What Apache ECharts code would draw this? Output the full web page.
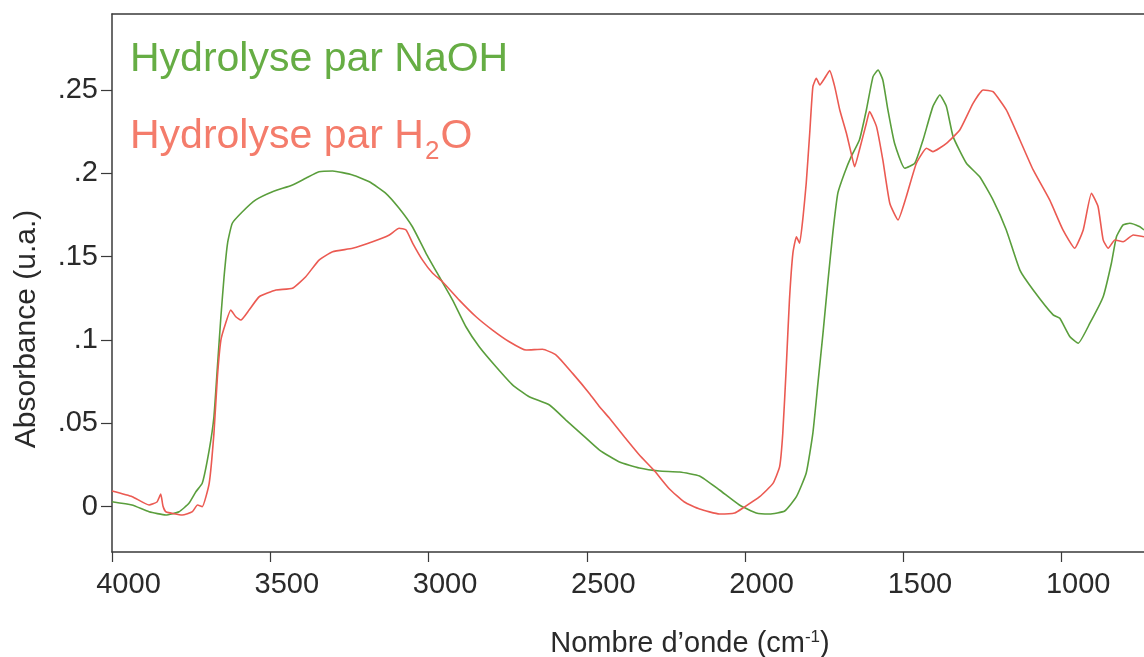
<!DOCTYPE html>
<html>
<head>
<meta charset="utf-8">
<script src="https://cdn.jsdelivr.net/npm/echarts@6/dist/echarts.min.js"></script>
<style>
html,body{margin:0;padding:0;background:#fff;}
#chart{width:1144px;height:657px;}
</style>
</head>
<body>
<div id="chart"></div>
<script>
// ---- Data ----
const seriesNames = ['Hydrolyse par NaOH', 'Hydrolyse par H2O'];

const naohWavenumbers = [4000,3937,3883,3830,3788,3757,3735,3715,3693,3678,3667,3656,3646,3635,3620,3588,3546,3493,3430,3388,3346,3303,3240,3187,3135,3093,3051,3008,2966,2924,2882,2840,2787,2734,2682,2618,2566,2513,2460,2397,2334,2271,2207,2144,2081,2018,1965,1923,1875,1838,1807,1786,1770,1754,1739,1723,1707,1686,1665,1639,1617,1596,1580,1565,1549,1528,1496,1464,1438,1407,1385,1364,1343,1301,1259,1217,1175,1132,1090,1027,1006,974,948,911,869,843,827,806,785,753,740];
const naohAbsorbance = [0.0029,0.0009,-0.0031,-0.0051,-0.0031,0.0019,0.0089,0.0139,0.0339,0.0539,0.0839,0.1139,0.1379,0.1580,0.1700,0.1769,0.1840,0.1889,0.1930,0.1970,0.2009,0.2014,0.1990,0.1949,0.1880,0.1790,0.1679,0.1520,0.1379,0.1239,0.1079,0.0959,0.0839,0.0729,0.0659,0.0609,0.0519,0.0429,0.0339,0.0267,0.0231,0.0213,0.0207,0.0183,0.0099,0.0009,-0.0039,-0.0045,-0.0027,0.0059,0.0201,0.0441,0.0741,0.1041,0.1341,0.1642,0.1882,0.2002,0.2100,0.2200,0.2380,0.2580,0.2620,0.2560,0.2380,0.2180,0.2030,0.2060,0.2200,0.2400,0.2470,0.2400,0.2220,0.2060,0.1979,0.1840,0.1660,0.1419,0.1300,0.1150,0.1130,0.1019,0.0980,0.1100,0.1259,0.1460,0.1619,0.1690,0.1700,0.1679,0.1660];

const h2oWavenumbers = [4000,3936,3883,3858,3846,3839,3830,3778,3746,3730,3715,3693,3678,3667,3656,3641,3625,3609,3593,3567,3535,3482,3430,3388,3346,3303,3240,3177,3124,3093,3071,3050,3019,2987,2956,2903,2850,2798,2745,2692,2640,2597,2545,2492,2460,2429,2381,2334,2286,2239,2192,2144,2081,2033,2007,1954,1912,1891,1881,1870,1860,1849,1838,1828,1817,1807,1796,1786,1775,1764,1749,1733,1717,1701,1680,1665,1654,1639,1617,1607,1585,1565,1543,1517,1491,1459,1427,1407,1364,1322,1280,1248,1217,1175,1132,1090,1038,996,959,932,906,885,869,853,832,806,774,740];
const h2oAbsorbance = [0.0093,0.0059,0.0009,0.0027,0.0075,0.0003,-0.0031,-0.0051,-0.0031,0.0009,-0.0001,0.0139,0.0439,0.0779,0.0999,0.1100,0.1179,0.1139,0.1119,0.1179,0.1259,0.1299,0.1310,0.1379,0.1479,0.1529,0.1550,0.1589,0.1630,0.1670,0.1660,0.1580,0.1479,0.1400,0.1349,0.1239,0.1139,0.1059,0.0989,0.0939,0.0944,0.0909,0.0799,0.0679,0.0599,0.0531,0.0417,0.0309,0.0213,0.0105,0.0027,-0.0015,-0.0045,-0.0039,-0.0009,0.0059,0.0139,0.0239,0.0441,0.0839,0.1239,0.1522,0.1619,0.1580,0.1739,0.1940,0.2240,0.2520,0.2570,0.2530,0.2570,0.2616,0.2520,0.2380,0.2240,0.2120,0.2039,0.2140,0.2300,0.2370,0.2280,0.2080,0.1820,0.1720,0.1859,0.2060,0.2150,0.2130,0.2180,0.2260,0.2420,0.2500,0.2490,0.2380,0.2200,0.2020,0.1840,0.1660,0.1550,0.1660,0.1880,0.1799,0.1600,0.1550,0.1600,0.1589,0.1630,0.1619];

const xTicks = [4000, 3500, 3000, 2500, 2000, 1500, 1000];
const xTickLabels = ['4000', '3500', '3000', '2500', '2000', '1500', '1000'];
const yTicks = [0, 0.05, 0.1, 0.15, 0.2, 0.25];
const yTickLabels = ['0', '.05', '.1', '.15', '.2', '.25'];

const legendH2oParts = ['Hydrolyse par H', '2', 'O'];
const xTitle = 'Nombre d’onde (cm';
const xTitleSup = '-1';
const yTitle = 'Absorbance (u.a.)';

// ---- Build chart ----
const zip = (xs, ys) => xs.map((x, i) => [x, ys[i]]);
const axisColor = '#3a3a3a';
const textColor = '#2a2a2a';
const greenLine = '#5a9e3c';
const redLine = '#eb5a52';
const greenText = '#66ad44';
const redText = '#f47c6b';
const FONT = '"Liberation Sans", Arial, sans-serif';
const LEG = 41, SUB = 26;

const ctx = document.createElement('canvas').getContext('2d');
function textW(t, size) { ctx.font = size + 'px ' + FONT; return ctx.measureText(t).width; }
const w1 = textW(legendH2oParts[0], LEG);
const w2 = textW(legendH2oParts[1], SUB);

const labelFor = (ticks, labels) => (v) => { const i = ticks.findIndex(t => Math.abs(t - v) < 1e-9); return i >= 0 ? labels[i] : ''; };

const chart = echarts.init(document.getElementById('chart'));
chart.setOption({
  animation: false,
  backgroundColor: '#fff',
  grid: { left: 112, right: 0, top: 14, bottom: 105, containLabel: false },
  xAxis: [{
    type: 'value', inverse: true, min: 740, max: 4000,
    axisLine: { show: true, onZero: false, lineStyle: { color: axisColor, width: 1.5 } },
    axisTick: { show: true, inside: false, length: 10, customValues: xTicks, lineStyle: { color: axisColor, width: 1.2 } },
    axisLabel: { show: true, customValues: xTicks, margin: 18, fontSize: 29, fontFamily: FONT, color: textColor, padding: [0, 0, 0, 33], formatter: labelFor(xTicks, xTickLabels) },
    splitLine: { show: false }
  }, {
    type: 'value', inverse: true, min: 740, max: 4000, position: 'top',
    axisLine: { show: true, onZero: false, lineStyle: { color: axisColor, width: 1.5 } },
    axisTick: { show: false }, axisLabel: { show: false }, splitLine: { show: false }
  }],
  yAxis: {
    type: 'value', min: -0.0273, max: 0.2956,
    axisLine: { show: true, onZero: false, lineStyle: { color: axisColor, width: 1.5 } },
    axisTick: { show: true, length: 11, customValues: yTicks, lineStyle: { color: axisColor, width: 1.2 } },
    axisLabel: {
      show: true, customValues: yTicks, margin: 14, fontSize: 29, fontFamily: FONT, color: textColor,
      formatter: labelFor(yTicks, yTickLabels)
    },
    splitLine: { show: false }
  },
  series: [{
    name: seriesNames[0], type: 'line', xAxisIndex: 0, data: zip(naohWavenumbers, naohAbsorbance),
    showSymbol: false, smooth: 0.15, clip: true, lineStyle: { color: greenLine, width: 1.6 }
  }, {
    name: seriesNames[1], type: 'line', xAxisIndex: 0, data: zip(h2oWavenumbers, h2oAbsorbance),
    showSymbol: false, smooth: 0.15, clip: true, lineStyle: { color: redLine, width: 1.6 }
  }],
  graphic: [{
    type: 'text', x: 130, y: 39, silent: true,
    style: { text: seriesNames[0], fontSize: LEG, fontFamily: FONT, fill: greenText, verticalAlign: 'top' }
  }, {
    type: 'text', x: 130, y: 116, silent: true,
    style: { text: legendH2oParts[0], fontSize: LEG, fontFamily: FONT, fill: redText, verticalAlign: 'top' }
  }, {
    type: 'text', x: 130 + w1 + 1, y: 139, silent: true,
    style: { text: legendH2oParts[1], fontSize: SUB, fontFamily: FONT, fill: redText, verticalAlign: 'top' }
  }, {
    type: 'text', x: 130 + w1 + w2 + 2, y: 116, silent: true,
    style: { text: legendH2oParts[2], fontSize: LEG, fontFamily: FONT, fill: redText, verticalAlign: 'top' }
  }, {
    type: 'text', x: 690, y: 629, silent: true,
    style: {
      text: '{a|' + xTitle + '}{p|' + xTitleSup + '}{a|)}', align: 'center', verticalAlign: 'top',
      rich: {
        a: { fontSize: 29, lineHeight: 40, fontFamily: FONT, fill: textColor, color: textColor, verticalAlign: 'top' },
        p: { fontSize: 17, lineHeight: 14, fontFamily: FONT, fill: textColor, color: textColor, verticalAlign: 'top' }
      }
    }
  }, {
    type: 'text', x: 27, y: 329, rotation: Math.PI / 2, silent: true,
    style: { text: yTitle, fontSize: 30, fontFamily: FONT, fill: textColor, align: 'center', verticalAlign: 'middle' }
  }]
});
</script>
</body>
</html>
